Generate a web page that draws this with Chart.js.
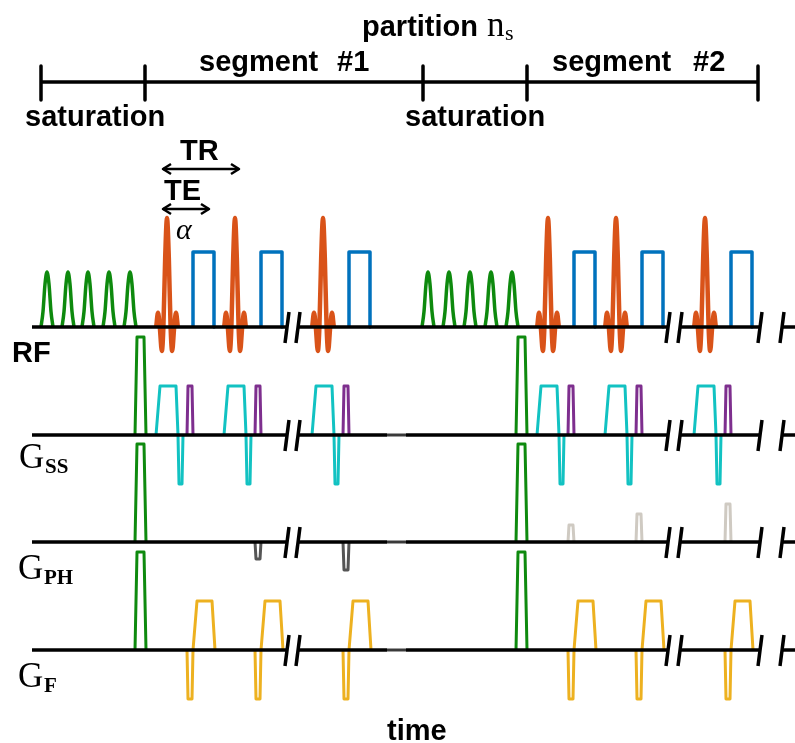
<!DOCTYPE html>
<html><head><meta charset="utf-8">
<script src="https://cdn.jsdelivr.net/npm/chart.js@4"></script>
<style>html,body{margin:0;padding:0;background:#fff;overflow:hidden}#wrap{width:795px;height:743px;position:relative}</style>
</head><body><div id="wrap"><canvas id="c"></canvas></div>
<script>
// ================= DATA =================
// excitation (alpha) pulse centres along the time axis
const alphaCenters = [167, 235, 323, 548, 616, 705];
const alphaAmplitude = 109;
// sinc-like RF lobe: time offset (pulse units) and relative amplitude
const sincShapeU = [-3, -2.5, -2, -1.43, -1, -0.5, 0, 0.5, 1, 1.43, 2, 2.5, 3];
const sincShapeA = [0, 0.13, 0, -0.22, 0, 0.64, 1, 0.64, 0, -0.22, 0, 0.13, 0];
// saturation train
const satCenters = [47, 68, 88, 109, 130, 428, 449, 470, 491, 512];
const satAmplitude = 55;
const satShapeU = [-6, -4, -2, 0, 2, 4, 6];
const satShapeA = [0, 0.28, 0.78, 1, 0.78, 0.28, 0];
// spoiler gradients after each saturation train
const spoilerStarts = [135, 516];
const spoilerAmplitude = 98;
// amplitudes of the other waveforms
const adcAmplitude = 75;
const sliceAmplitude = 49;
const partitionAmplitude = 49;
const readAmplitude = 49;
const phaseAmplitudes = [0, -17, -28, 17, 28, 38];
// waveform templates: time offset from alpha centre, relative amplitude
const adcT = [26, 26, 47, 47],            adcA = [0, 1, 1, 0];
const sliceT = [-11, -7, 9, 11, 12, 15, 16], sliceA = [0, 1, 1, 0, -1, -1, 0];
const partT = [20, 21, 25, 26],           partA = [0, 1, 1, 0];
const readT = [20, 21, 25, 26, 30, 45, 48], readA = [0, -1, -1, 0, 1, 1, 0];
const spoilT = [0, 2, 9, 11],             spoilA = [0, 1, 1, 0];
// time line
const timelineTicks = [41, 145, 423, 527, 758];
const breakPairs = [287, 298, 668, 680];
const endTicks = [760, 782];

// ================= LAYOUT / STYLE =================
const X_MIN = 0, X_MAX = 795, Y_MIN = 0, Y_MAX = 743;
const base = { TL: 82, RF: 327, SS: 435, PH: 542, F: 650 };
const C = {
  black: '#000000', green: '#0e8a0e', orange: '#d95319', blue: '#0072bd',
  cyan: '#12c2c2', purple: '#7e2f8e', yellow: '#edb120',
  dgray: '#555555', lgray: '#cfcac2', ggap: '#3a3a3a'
};
const RF_UNIT = 3.6;

const datasets = [];
function addLine(pts, color, width, curved) {
  datasets.push({
    data: pts, borderColor: color, borderWidth: width, showLine: true,
    pointRadius: 0, fill: false, borderJoinStyle: 'round', borderCapStyle: 'butt',
    cubicInterpolationMode: curved ? 'monotone' : 'default', tension: 0
  });
}
function shape(center, T, A, amp, ch, scaleT) {
  const s = scaleT || 1;
  return T.map((t, i) => ({ x: center + t * s, y: base[ch] - A[i] * amp }));
}

// ---- baselines ----
const rfSegs = [[32, 288], [297, 669], [679, 761], [781, 795]];
rfSegs.forEach(s => addLine([{x: s[0], y: base.RF}, {x: s[1], y: base.RF}], C.black, 3.5));
['SS', 'PH', 'F'].forEach(ch => {
  const segs = [[32, 288], [297, 387], [406, 669], [679, 761], [781, 795]];
  segs.forEach(s => addLine([{x: s[0], y: base[ch]}, {x: s[1], y: base[ch]}], C.black, 3.5));
  addLine([{x: 387, y: base[ch]}, {x: 406, y: base[ch]}], C.ggap, 3);
});
// break marks
['RF', 'SS', 'PH', 'F'].forEach(ch => {
  breakPairs.concat(endTicks).forEach(x => {
    addLine([{x: x - 2, y: base[ch] + 16}, {x: x + 2, y: base[ch] - 15}], C.black, 3.5);
  });
});
// ---- top timeline ----
addLine([{x: timelineTicks[0], y: base.TL}, {x: timelineTicks[timelineTicks.length - 1], y: base.TL}], C.black, 3.5);
timelineTicks.forEach(x => addLine([{x: x, y: base.TL - 16}, {x: x, y: base.TL + 18}], C.black, 3.5));

// ---- RF: saturation train ----
satCenters.forEach(c => addLine(shape(c, satShapeU, satShapeA, satAmplitude, 'RF'), C.green, 3.5, true));
// ---- spoilers on all gradient axes ----
spoilerStarts.forEach(s => ['SS', 'PH', 'F'].forEach(ch =>
  addLine(shape(s, spoilT, spoilA, spoilerAmplitude, ch), C.green, 3)));

// ---- per-TR waveforms ----
alphaCenters.forEach((c, i) => {
  addLine(shape(c, sincShapeU, sincShapeA, alphaAmplitude, 'RF', RF_UNIT), C.orange, 4.5, true);
  addLine(shape(c, adcT, adcA, adcAmplitude, 'RF'), C.blue, 3.5);
  addLine(shape(c, sliceT, sliceA, sliceAmplitude, 'SS'), C.cyan, 3);
  addLine(shape(c, partT, partA, partitionAmplitude, 'SS'), C.purple, 3);
  if (phaseAmplitudes[i] !== 0) {
    addLine(shape(c, partT, partA, phaseAmplitudes[i], 'PH'), phaseAmplitudes[i] < 0 ? C.dgray : C.lgray, 3);
  }
  addLine(shape(c, readT, readA, readAmplitude, 'F'), C.yellow, 3);
});

// ---- TR / TE arrows ----
const arrows = [{x0: 162, x1: 240, y: 169}, {x0: 162, x1: 210, y: 209}];
arrows.forEach(a => {
  addLine([{x: a.x0 + 1, y: a.y}, {x: a.x1 - 1, y: a.y}], C.black, 2.5);
  addLine([{x: a.x0 + 9, y: a.y - 5}, {x: a.x0 + 1, y: a.y}, {x: a.x0 + 9, y: a.y + 5}], C.black, 2.5);
  addLine([{x: a.x1 - 9, y: a.y - 5}, {x: a.x1 - 1, y: a.y}, {x: a.x1 - 9, y: a.y + 5}], C.black, 2.5);
});

// ---- text labels ----
const SANS = 'bold 29px "Liberation Sans", Arial, sans-serif';
const SERIF_G = '35px "Liberation Serif", serif';
const SERIF_SUB = 'bold 21px "Liberation Serif", serif';
const labels = [
  {t: 'partition', x: 362, y: 36, f: SANS},
  {t: 'n', x: 487, y: 36, f: '35px "Liberation Serif", serif'},
  {t: 's', x: 505, y: 40, f: '22px "Liberation Serif", serif'},
  {t: 'segment', x: 199, y: 71, f: SANS},
  {t: '#1', x: 337, y: 71, f: SANS},
  {t: 'segment', x: 552, y: 71, f: SANS},
  {t: '#2', x: 693, y: 71, f: SANS},
  {t: 'saturation', x: 25, y: 126, f: SANS},
  {t: 'saturation', x: 405, y: 126, f: SANS},
  {t: 'TR', x: 180, y: 160, f: SANS},
  {t: 'TE', x: 164, y: 200, f: SANS},
  {t: 'α', x: 176, y: 239, f: 'italic 30px "Liberation Serif", serif'},
  {t: 'RF', x: 12, y: 362, f: SANS},
  {t: 'G', x: 19, y: 468, f: SERIF_G},
  {t: 'SS', x: 45, y: 473, f: SERIF_SUB},
  {t: 'G', x: 18, y: 579, f: SERIF_G},
  {t: 'PH', x: 44, y: 584, f: SERIF_SUB},
  {t: 'G', x: 18, y: 687, f: SERIF_G},
  {t: 'F', x: 44, y: 692, f: SERIF_SUB},
  {t: 'time', x: 387, y: 740, f: SANS}
];
const textPlugin = {
  id: 'textPlugin',
  afterDatasetsDraw(chart) {
    const ctx = chart.ctx, xs = chart.scales.x, ys = chart.scales.y;
    ctx.save();
    ctx.fillStyle = '#000';
    ctx.textBaseline = 'alphabetic';
    ctx.textAlign = 'left';
    labels.forEach(l => {
      ctx.font = l.f;
      ctx.fillText(l.t, xs.getPixelForValue(l.x), ys.getPixelForValue(l.y));
    });
    ctx.restore();
  }
};

new Chart(document.getElementById('c'), {
  type: 'scatter',
  data: { datasets },
  options: {
    responsive: true, maintainAspectRatio: false, animation: false,
    layout: { padding: 0 },
    plugins: { legend: { display: false }, tooltip: { enabled: false }, title: { display: false } },
    scales: {
      x: { type: 'linear', min: X_MIN, max: X_MAX, display: false },
      y: { type: 'linear', min: Y_MIN, max: Y_MAX, reverse: true, display: false }
    }
  },
  plugins: [textPlugin]
});
</script>
</body></html>
